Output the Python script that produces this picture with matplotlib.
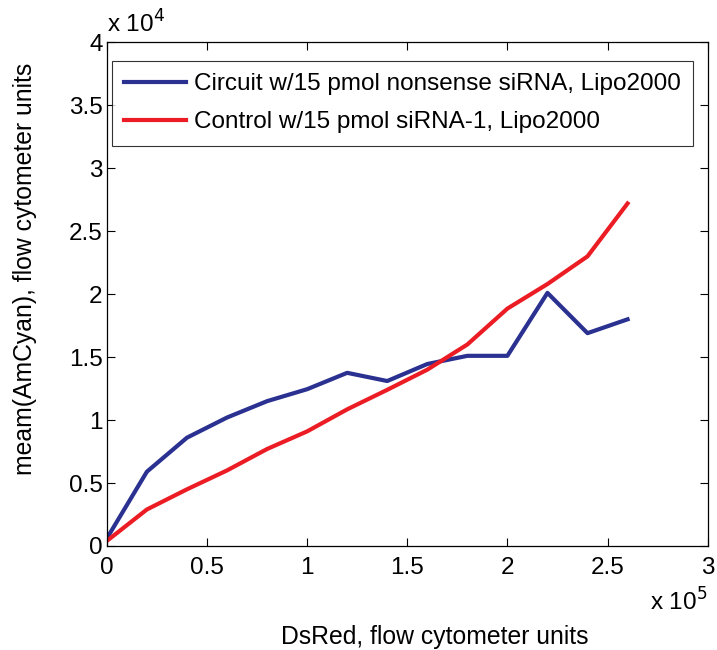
import numpy as np
import matplotlib
matplotlib.use('Agg')
import matplotlib.pyplot as plt

# ── Data ──────────────────────────────────────────────────────────────────────
dsred = [0, 2e4, 4e4, 6e4, 8e4, 1e5, 1.2e5, 1.4e5, 1.6e5, 1.8e5, 2e5, 2.2e5, 2.4e5, 2.6e5]
circuit = [600, 5900, 8600, 10200, 11500, 12450, 13750, 13100, 14450, 15100, 15100, 20100, 16900, 18000]
control = [400, 2900, 4500, 6000, 7700, 9100, 10850, 12400, 14000, 16000, 18850, 20800, 23000, 27200]

labels = ['Circuit w/15 pmol nonsense siRNA, Lipo2000',
          'Control w/15 pmol siRNA-1, Lipo2000']

x_ticks = [0, 0.5e5, 1e5, 1.5e5, 2e5, 2.5e5, 3e5]
y_ticks = [0, 0.5e4, 1e4, 1.5e4, 2e4, 2.5e4, 3e4, 3.5e4, 4e4]

plt.rcParams['font.family'] = ['Liberation Sans', 'DejaVu Sans']
FS = 17.5      # ticks, legend, exponents
FS_LAB = 17.8  # axis labels

fig = plt.figure(figsize=(7.17, 6.5), dpi=100)
ax = fig.add_axes([0.149, 0.16, 0.838, 0.775])

ax.plot(dsred, circuit, color='#2b3190', lw=3, label=labels[0])
ax.plot(dsred, control, color='#ec1c24', lw=3, label=labels[1])

ax.set_xlim(0, 3e5)
ax.set_ylim(0, 4e4)
ax.set_xticks(x_ticks)
ax.set_yticks(y_ticks)
ax.set_xticklabels([f'{v / 1e5:g}' for v in x_ticks])
ax.set_yticklabels([f'{v / 1e4:g}' for v in y_ticks])
ax.tick_params(direction='in', length=6, width=0.8, labelsize=FS,
               top=True, right=True)
ax.tick_params(axis='x', pad=8)
ax.tick_params(axis='y', pad=3)
for s in ax.spines.values():
    s.set_linewidth(0.9)

# MATLAB-style exponent labels
ax.text(0.0, 1.01, r'x 10$^4$', transform=ax.transAxes, fontsize=FS,
        ha='left', va='bottom')
ax.text(1.0, -0.085, r'x 10$^5$', transform=ax.transAxes, fontsize=FS,
        ha='right', va='top')

ax.set_xlabel('DsRed, flow cytometer units', fontsize=FS_LAB)
ax.xaxis.set_label_coords(0.546, -0.157)
ax.set_ylabel('meam(AmCyan), flow cytometer units', fontsize=FS_LAB)
ax.yaxis.set_label_coords(-0.117, 0.55)

leg = ax.legend(loc='upper left', bbox_to_anchor=(0.009, 0.963), fontsize=FS,
                frameon=True, fancybox=False, edgecolor='black',
                handlelength=2.55, handletextpad=0.33, borderpad=0.5,
                labelspacing=0.67, borderaxespad=0)
leg.get_frame().set_linewidth(0.8)

fig.savefig('out.png', dpi=100)
